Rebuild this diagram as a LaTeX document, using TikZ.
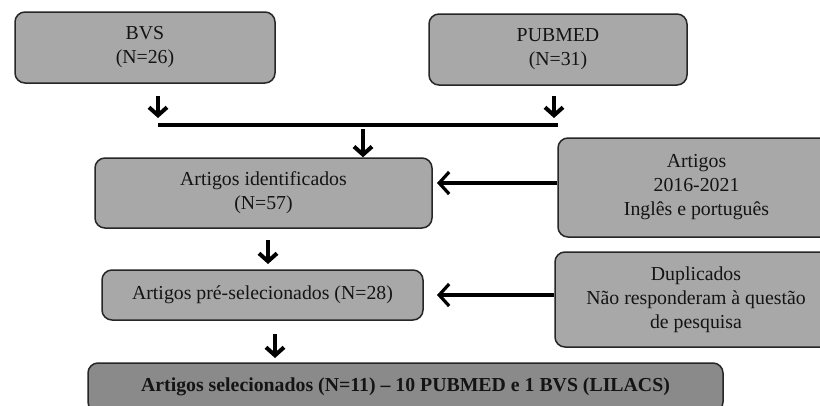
\documentclass[tikz,border=0pt]{standalone}
\usepackage{fontspec}
\setmainfont{Liberation Serif}
\usetikzlibrary{arrows.meta}
\definecolor{boxgray}{RGB}{168,168,168}
\definecolor{boxdark}{RGB}{138,138,138}
\definecolor{txt}{RGB}{20,20,20}
\tikzset{
  box/.style={draw=black!85, line width=1.5pt, rounded corners=10pt, fill=boxgray,
    align=center, inner sep=0pt, text=txt,
    font=\fontsize{19.8}{24}\selectfont},
  darkbox/.style={box, fill=boxdark, font=\fontsize{19.8}{24}\selectfont\bfseries},
  downarrow/.style={line width=4pt, -{Straight Barb[length=8pt,width=18pt,line width=4pt]}},
  leftarrow/.style={line width=3.2pt, -{Straight Barb[length=10pt,width=22pt,line width=3.2pt]}},
  mergeline/.style={line width=4pt}
}
\begin{document}
\begin{tikzpicture}[x=1pt,y=-1pt]
\useasboundingbox (0,0) rectangle (820,405);
\clip (0,0) rectangle (820,405);
\fill[white] (0,0) rectangle (820,405);

\node[box, minimum width=260pt, minimum height=71pt] (bvs) at (145,47.5) {BVS\\(N=26)};
\node[box, minimum width=258pt, minimum height=71pt] (pubmed) at (558,49.5) {PUBMED\\(N=31)};

\node[box, minimum width=337pt, minimum height=70pt] (ident) at (263.5,193) {Artigos identificados\\(N=57)};
\node[box, minimum width=321pt, minimum height=50pt] (pre) at (262.5,295) {Artigos pré-selecionados (N=28)};
\node[darkbox, minimum width=635pt, minimum height=49pt] (final) at (405.5,387.5) {\raisebox{5pt}{Artigos selecionados (N=11) – 10 PUBMED e 1 BVS (LILACS)}};

\node[box, minimum width=277pt, minimum height=99pt] (crit) at (696.5,187.5) {Artigos\\2016-2021\\Inglês e português};
\node[box, minimum width=282pt, minimum height=95pt] (excl) at (696,299.5) {Duplicados\\Não responderam à questão\\de pesquisa};

\coordinate (a1s) at (158,96);
\coordinate (a1e) at (158,118);
\coordinate (a2s) at (554,96);
\coordinate (a2e) at (554,118);
\coordinate (mL) at (158,125);
\coordinate (mR) at (558,125);
\coordinate (a3s) at (363,129);
\coordinate (a4s) at (268,240);
\coordinate (a4e) at (268,264);
\coordinate (a5s) at (275,334);
\coordinate (a5e) at (275,358);

\draw[downarrow] (a1s) -- (a1e);
\draw[downarrow] (a2s) -- (a2e);
\draw[mergeline] (mL) -- (mR);
\draw[downarrow] (a3s) -- (ident.north -| a3s);
\draw[downarrow] (a4s) -- (a4e);
\draw[downarrow] (a5s) -- (a5e);

\draw[leftarrow] (crit.west |- 0,183) -- (437,183);
\draw[leftarrow] (excl.west |- 0,295) -- (437,295);
\end{tikzpicture}
\end{document}
